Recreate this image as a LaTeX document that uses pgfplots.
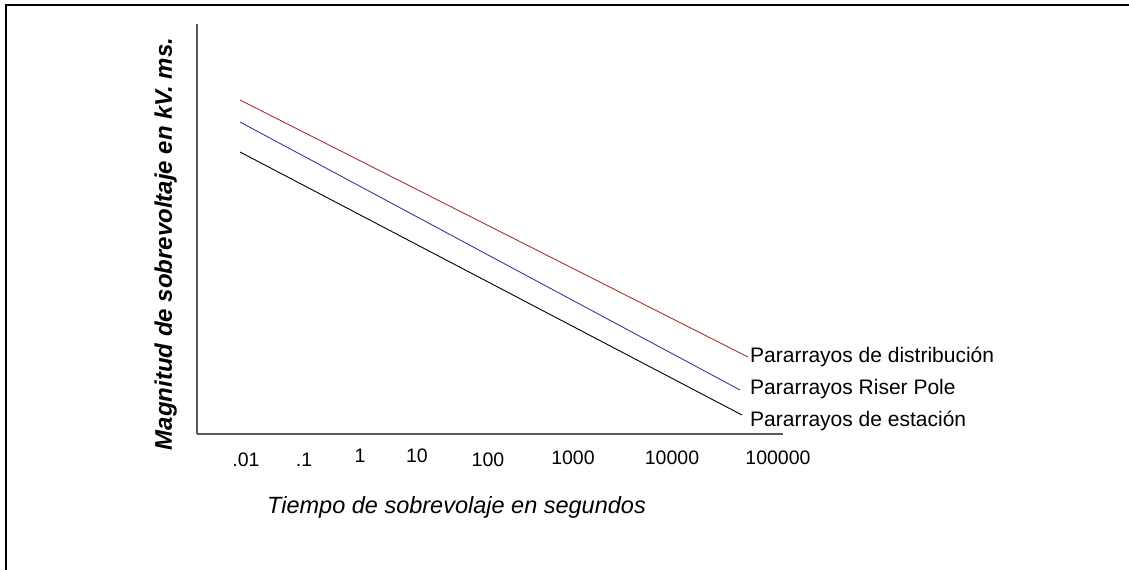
\documentclass[border=0pt]{standalone}
\usepackage{fontspec}
\setmainfont{Liberation Sans}
\usepackage{pgfplots}
\pgfplotsset{compat=1.18}
\definecolor{axisgray}{HTML}{5A5A5A}
\definecolor{redline}{HTML}{A83232}
\definecolor{blueline}{HTML}{3A3A9A}
\begin{document}
\begin{tikzpicture}
\begin{axis}[
  scale only axis,
  x=1bp, y=1bp,
  xmin=197, xmax=783, ymin=136, ymax=546,
  axis x line=bottom, axis y line=left,
  axis line style={-, draw=axisgray, line width=1.5bp},
  xtick={246,304,360,417,488,573,672,778},
  xticklabels={\raisebox{-2bp}{.01},\raisebox{-2bp}{.1},\raisebox{2bp}{1},\raisebox{2bp}{10},\raisebox{-2bp}{100},1000,10000,100000},
  ytick=\empty,
  major tick length=0pt,
  xticklabel style={anchor=base, yshift=-31bp, inner sep=0pt, font=\fontsize{19.5bp}{23bp}\selectfont},
  clip=false,
]
\addplot[redline, line width=0.9bp] coordinates {(240,470) (748,213)};
\addplot[blueline, line width=0.9bp] coordinates {(240,448) (740,180)};
\addplot[black, line width=0.9bp] coordinates {(240,418) (742,155)};
\node[anchor=base west, inner sep=0pt, font=\fontsize{21bp}{25bp}\selectfont] at (axis cs:750,207) {Pararrayos de distribución};
\node[anchor=base west, inner sep=0pt, font=\fontsize{21bp}{25bp}\selectfont] at (axis cs:750,175) {Pararrayos Riser Pole};
\node[anchor=base west, inner sep=0pt, font=\fontsize{21bp}{25bp}\selectfont] at (axis cs:750,143) {Pararrayos de estación};
\node[anchor=base west, inner sep=0pt, font=\fontsize{23.5bp}{28bp}\selectfont\itshape] at (axis cs:267,56) {Tiempo de sobrevolaje en segundos};
\node[anchor=base, rotate=90, inner sep=0pt, font=\fontsize{24bp}{28bp}\selectfont\bfseries\itshape] at (axis cs:172,326) {Magnitud de sobrevoltaje en kV. ms.};
% frame
\draw[black, line width=1.3bp] (axis cs:5,565) -- (axis cs:1129,565);
\draw[black, line width=2.6bp] (axis cs:5,565) -- (axis cs:118,565);
\draw[black, line width=2.6bp] (axis cs:1018,565) -- (axis cs:1129,565);
\draw[black, line width=1.8bp] (axis cs:6,566) -- (axis cs:6,0);
\coordinate (BL) at (axis cs:0,0);
\coordinate (TR) at (axis cs:1129,570);
\end{axis}
\pgfresetboundingbox
\path[use as bounding box] (BL) rectangle (TR);
\end{tikzpicture}
\end{document}
